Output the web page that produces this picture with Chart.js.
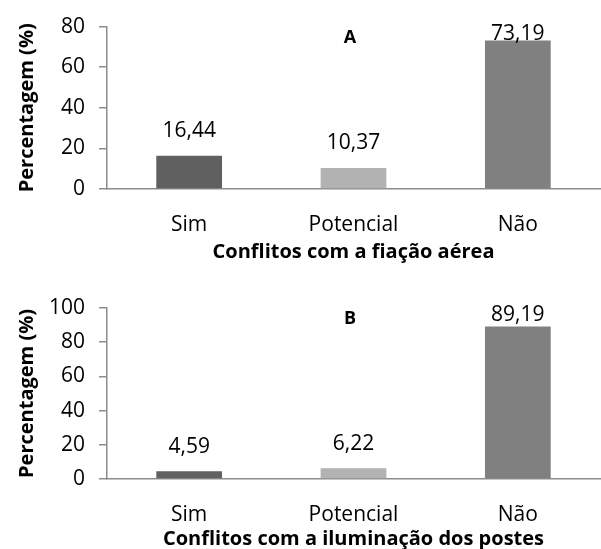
<!DOCTYPE html>
<html>
<script src="https://cdn.jsdelivr.net/npm/chart.js"></script>
<style type="text/css">
  html, body { margin: 0; padding: 0; overflow: hidden; background: #fff; }
  .chartBox { position: absolute; left: 0; width: 601px; }
  #boxA { top: 0; height: 270px; }
  #boxB { top: 270px; height: 300px; }
</style>
<body>
  <div class="chartBox" id="boxA"><canvas id="chartA"></canvas></div>
  <div class="chartBox" id="boxB"><canvas id="chartB"></canvas></div>

  <script>
    const categories = ['Sim', 'Potencial', 'Não'];
    const valuesA = [16.44, 10.37, 73.19];
    const valuesB = [4.59, 6.22, 89.19];
    const ticksA = [0, 20, 40, 60, 80];
    const ticksB = [0, 20, 40, 60, 80, 100];
    const titleA = 'Conflitos com a fiação aérea';
    const titleB = 'Conflitos com a iluminação dos postes';
    const yTitle = 'Percentagem (%)';
    const barColors = ['#606060', '#b2b2b2', '#808080'];

    const FONT = "'Open Sans', sans-serif";
    const axisGray = '#8c8c8c';

    // value labels above bars + the panel letter
    const labelPlugin = {
      id: 'labels',
      afterDatasetsDraw(chart, args, opts) {
        const ctx = chart.ctx;
        const area = chart.chartArea;
        const meta = chart.getDatasetMeta(0);
        ctx.save();
        ctx.fillStyle = '#000';
        ctx.textAlign = 'center';
        ctx.textBaseline = 'middle';
        ctx.font = '21px ' + FONT;
        meta.data.forEach((bar, i) => {
          const v = chart.data.datasets[0].data[i];
          const y = Math.max(bar.y - 24.5, area.top + 7);
          ctx.fillText(v.toFixed(2).replace('.', ','), bar.x, y);
        });
        ctx.font = 'bold 18px ' + FONT;
        ctx.fillText(opts.letter, 350, area.top + 11);
        ctx.restore();
      }
    };

    function makeChart(id, values, yTicks, letter, xTitle, topPad, xHeight, titlePad) {
      const ctx = document.getElementById(id).getContext('2d');
      return new Chart(ctx, {
        type: 'bar',
        data: {
          labels: categories,
          datasets: [{
            data: values,
            backgroundColor: barColors,
            categoryPercentage: 1,
            barPercentage: 0.4
          }]
        },
        options: {
          responsive: true,
          maintainAspectRatio: false,
          animation: false,
          layout: { padding: { top: topPad, right: 1, left: 0, bottom: 0 } },
          plugins: {
            legend: false,
            tooltip: { enabled: false },
            labels: { letter: letter }
          },
          scales: {
            x: {
              grid: { display: false, drawTicks: false },
              border: { display: true, color: axisGray, width: 1.5 },
              ticks: { color: '#000', font: { family: FONT, size: 21 }, padding: 23 },
              title: {
                display: true, text: xTitle, color: '#000',
                font: { family: FONT, size: 20, weight: 'bold' },
                padding: { top: 0, bottom: titlePad }
              },
              afterFit(scale) { scale.height = xHeight; }
            },
            y: {
              min: 0,
              max: yTicks[yTicks.length - 1],
              afterBuildTicks(scale) { scale.ticks = yTicks.map(v => ({ value: v })); },
              grid: { drawOnChartArea: false, drawTicks: true, tickLength: 8, color: axisGray, lineWidth: 1.5 },
              border: { display: true, color: axisGray, width: 1.5 },
              ticks: { color: '#000', font: { family: FONT, size: 21 }, padding: 14 },
              title: {
                display: true, text: yTitle, color: '#000',
                font: { family: FONT, size: 20, weight: 'bold' },
                padding: { top: 15, bottom: 0 }
              },
              afterFit(scale) { scale.width = 107; }
            }
          }
        },
        plugins: [labelPlugin]
      });
    }

    makeChart('chartA', valuesA, ticksA, 'A', titleA, 22, 81, 6);
    makeChart('chartB', valuesB, ticksB, 'B', titleB, 38, 91, 19);
  </script>
</body>
</html>
